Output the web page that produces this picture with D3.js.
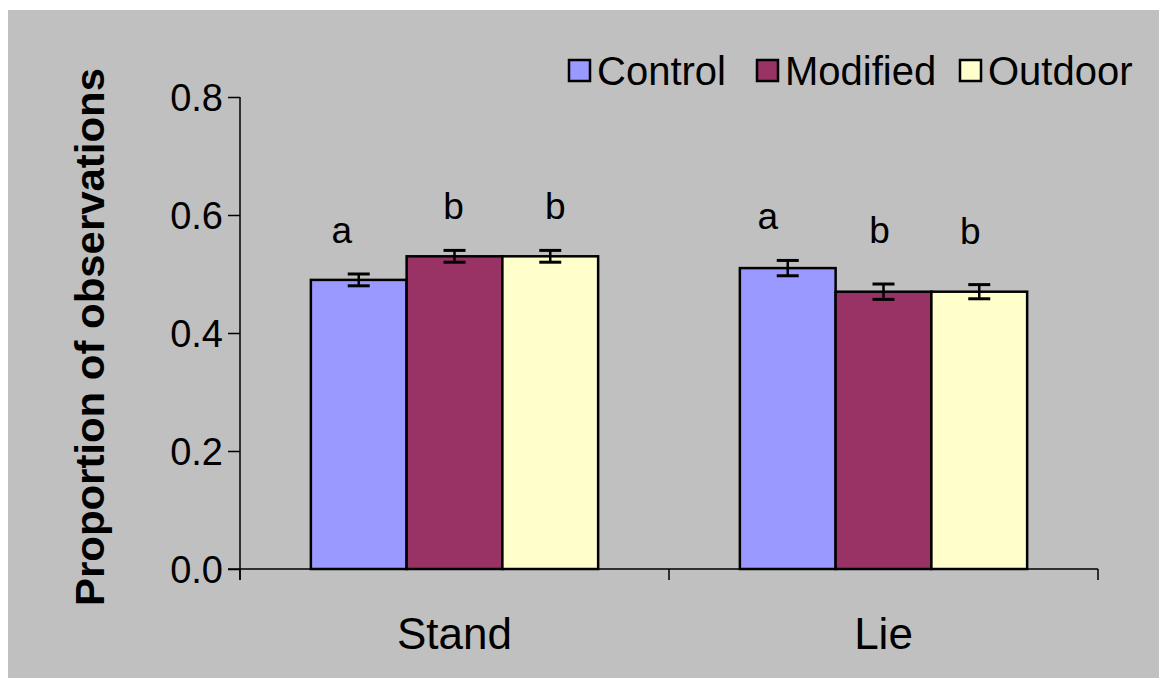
<!DOCTYPE html>
<html>
<head>
<meta charset="utf-8">
<script src="https://cdn.jsdelivr.net/npm/d3@7"></script>
<style>
  body { margin: 0; background: #ffffff; }
  text { font-family: "Liberation Sans", Arial, sans-serif; fill: #000; }
</style>
</head>
<body>
<div id="chart"></div>
<script>
// data
const categories = ["Stand", "Lie"];
const seriesNames = ["Control", "Modified", "Outdoor"];
const seriesColours = ["#9999ff", "#993366", "#ffffcc"];
const standValues = [0.49, 0.53, 0.53];
const lieValues = [0.51, 0.47, 0.47];
const standErrors = [0.010, 0.010, 0.010];
const lieErrors = [0.013, 0.013, 0.012];
const standLetters = ["a", "b", "b"];
const lieLetters = ["a", "b", "b"];
const yTicks = [0, 0.2, 0.4, 0.6, 0.8];

const width = 1159, height = 678;
const margin = { top: 97, right: 61, bottom: 109, left: 240 };

const svg = d3.select("#chart").append("svg")
  .attr("width", width)
  .attr("height", height);

// gray plot area, white strip on the top and left edge
svg.append("rect")
  .attr("x", 8).attr("y", 10)
  .attr("width", width - 8).attr("height", height - 10)
  .attr("fill", "#c0c0c0");

const rows = [
  { cat: categories[0], values: standValues, errs: standErrors, letters: standLetters },
  { cat: categories[1], values: lieValues, errs: lieErrors, letters: lieLetters }
];

let x0 = d3.scaleBand()
  .domain(categories)
  .range([margin.left, width - margin.right])
  .paddingInner(0)
  .paddingOuter(0);

// gap between groups is ~1.48 bar widths
const gapRatio = 1.48;
const barW = x0.bandwidth() / (seriesNames.length + gapRatio);

let x1 = d3.scaleBand()
  .domain(seriesNames)
  .range([0, barW * seriesNames.length]);

let y = d3.scaleLinear()
  .domain([0, 0.8])
  .range([height - margin.bottom, margin.top]);

// y axis
let yAxis = d3.axisLeft(y)
  .tickValues(yTicks)
  .tickSize(12)
  .tickPadding(5)
  .tickFormat(d3.format(".1f"));

let gy = svg.append("g")
  .attr("transform", `translate(${margin.left},0)`)
  .call(yAxis);
gy.select(".domain").remove();
gy.selectAll(".tick line").attr("stroke", "#000").attr("stroke-width", 1.5);
gy.selectAll(".tick text")
  .style("font-size", "38px")
  .attr("dy", "0.36em");

svg.append("line")
  .attr("x1", margin.left).attr("x2", margin.left)
  .attr("y1", y(0.8)).attr("y2", y(0) + 11)
  .attr("stroke", "#000").attr("stroke-width", 1.5);

// x axis
svg.append("line")
  .attr("x1", margin.left - 12).attr("x2", width - margin.right)
  .attr("y1", y(0)).attr("y2", y(0))
  .attr("stroke", "#000").attr("stroke-width", 1.5);

const boundaries = [margin.left].concat(categories.map(c => x0(c) + x0.bandwidth()));
svg.selectAll("line.xtick")
  .data(boundaries)
  .enter()
  .append("line")
  .attr("class", "xtick")
  .attr("x1", d => d).attr("x2", d => d)
  .attr("y1", y(0)).attr("y2", y(0) + 11)
  .attr("stroke", "#000").attr("stroke-width", 1.5);

svg.selectAll("text.cat")
  .data(categories)
  .enter()
  .append("text")
  .attr("class", "cat")
  .attr("x", d => x0(d) + x0.bandwidth() / 2)
  .attr("y", 649)
  .attr("text-anchor", "middle")
  .style("font-size", "44px")
  .text(d => d);

// bars
const groups = svg.selectAll("g.group")
  .data(rows)
  .enter()
  .append("g")
  .attr("class", "group")
  .attr("transform", d => `translate(${x0(d.cat) + (x0.bandwidth() - barW * seriesNames.length) / 2},0)`);

groups.selectAll("rect.bar")
  .data(d => d.values.map((v, i) => ({ v: v, s: seriesNames[i], c: seriesColours[i] })))
  .enter()
  .append("rect")
  .attr("class", "bar")
  .attr("x", d => x1(d.s))
  .attr("y", d => y(d.v))
  .attr("width", x1.bandwidth())
  .attr("height", d => y(0) - y(d.v))
  .attr("fill", d => d.c)
  .attr("stroke", "#000")
  .attr("stroke-width", 2.5);

// error bars
const errs = groups.selectAll("g.err")
  .data(d => d.values.map((v, i) => ({ v: v, e: d.errs[i], s: seriesNames[i] })))
  .enter()
  .append("g")
  .attr("class", "err")
  .attr("transform", d => `translate(${x1(d.s) + x1.bandwidth() / 2},0)`);

errs.append("line")
  .attr("y1", d => y(d.v + d.e)).attr("y2", d => y(d.v - d.e))
  .attr("stroke", "#000").attr("stroke-width", 2.5);
errs.selectAll("line.cap")
  .data(d => [d.v + d.e, d.v - d.e])
  .enter()
  .append("line")
  .attr("class", "cap")
  .attr("x1", -11).attr("x2", 11)
  .attr("y1", d => y(d)).attr("y2", d => y(d))
  .attr("stroke", "#000").attr("stroke-width", 3);

// significance letters (hand placed text boxes in the original)
const letterShift = [
  [-17, -31], [-1, -31], [5, -31],
  [-20, -31], [-4, -41], [-9, -41]
];
groups.selectAll("text.letter")
  .data((d, gi) => d.letters.map((l, i) => ({ l: l, v: d.values[i] + d.errs[i], s: seriesNames[i], k: gi * 3 + i })))
  .enter()
  .append("text")
  .attr("class", "letter")
  .attr("x", d => x1(d.s) + x1.bandwidth() / 2 + letterShift[d.k][0])
  .attr("y", d => y(d.v) + letterShift[d.k][1])
  .attr("text-anchor", "middle")
  .style("font-size", "37px")
  .text(d => d.l);

// y axis title
svg.append("text")
  .attr("transform", `translate(104, ${(y(0) + y(0.8)) / 2 + 4}) rotate(-90)`)
  .attr("text-anchor", "middle")
  .attr("textLength", 538)
  .attr("lengthAdjust", "spacingAndGlyphs")
  .style("font-size", "40px")
  .style("font-weight", "bold")
  .text("Proportion of observations");

// legend
const legendX = [569, 757, 960];
const legend = svg.selectAll("g.legend")
  .data(seriesNames)
  .enter()
  .append("g")
  .attr("class", "legend")
  .attr("transform", (d, i) => `translate(${legendX[i]},60)`);

legend.append("rect")
  .attr("width", 21).attr("height", 21)
  .attr("fill", (d, i) => seriesColours[i])
  .attr("stroke", "#000").attr("stroke-width", 2.5);

legend.append("text")
  .attr("x", 28)
  .attr("y", 25)
  .style("font-size", "40px")
  .text(d => d);
</script>
</body>
</html>
